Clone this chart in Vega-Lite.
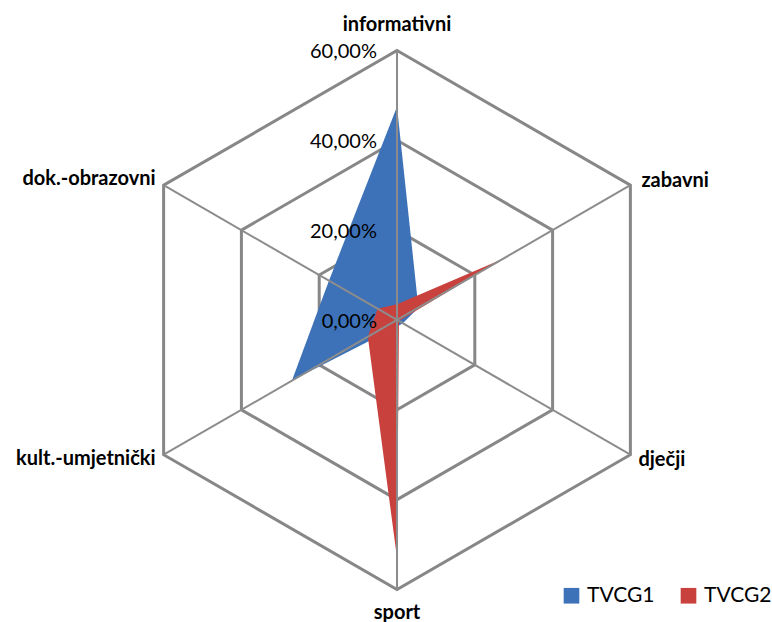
{
  "$schema": "https://vega.github.io/schema/vega-lite/v6.json",
  "width": 772,
  "height": 622,
  "padding": 0,
  "autosize": {"type": "none"},
  "background": "white",
  "config": {"view": {"stroke": null}, "font": "Lato"},
  "datasets": {
    "scores": [
      {"cat": "informativni", "series": "TVCG1", "value": 47.5},
      {"cat": "zabavni", "series": "TVCG1", "value": 5.5},
      {"cat": "dječji", "series": "TVCG1", "value": 1.5},
      {"cat": "sport", "series": "TVCG1", "value": 1.5},
      {"cat": "kult.-umjetnički", "series": "TVCG1", "value": 27},
      {"cat": "dok.-obrazovni", "series": "TVCG1", "value": 17.5},
      {"cat": "informativni", "series": "TVCG2", "value": 3.5},
      {"cat": "zabavni", "series": "TVCG2", "value": 27},
      {"cat": "dječji", "series": "TVCG2", "value": 0.5},
      {"cat": "sport", "series": "TVCG2", "value": 53},
      {"cat": "kult.-umjetnički", "series": "TVCG2", "value": 7.5},
      {"cat": "dok.-obrazovni", "series": "TVCG2", "value": 5}
    ],
    "rings": [
      {"level": 20, "cat": "informativni"}, {"level": 20, "cat": "zabavni"}, {"level": 20, "cat": "dječji"},
      {"level": 20, "cat": "sport"}, {"level": 20, "cat": "kult.-umjetnički"}, {"level": 20, "cat": "dok.-obrazovni"},
      {"level": 40, "cat": "informativni"}, {"level": 40, "cat": "zabavni"}, {"level": 40, "cat": "dječji"},
      {"level": 40, "cat": "sport"}, {"level": 40, "cat": "kult.-umjetnički"}, {"level": 40, "cat": "dok.-obrazovni"},
      {"level": 60, "cat": "informativni"}, {"level": 60, "cat": "zabavni"}, {"level": 60, "cat": "dječji"},
      {"level": 60, "cat": "sport"}, {"level": 60, "cat": "kult.-umjetnički"}, {"level": 60, "cat": "dok.-obrazovni"}
    ],
    "axes": [
      {"cat": "informativni", "max": 60}, {"cat": "zabavni", "max": 60}, {"cat": "dječji", "max": 60},
      {"cat": "sport", "max": 60}, {"cat": "kult.-umjetnički", "max": 60}, {"cat": "dok.-obrazovni", "max": 60}
    ],
    "ticks": [
      {"value": 0, "label": "0,00%"},
      {"value": 20, "label": "20,00%"},
      {"value": 40, "label": "40,00%"},
      {"value": 60, "label": "60,00%"}
    ]
  },
  "encoding": {
    "x": {"field": "x", "type": "quantitative", "scale": {"domain": [-88.39, 83.49], "nice": false, "zero": false}, "axis": null},
    "y": {"field": "y", "type": "quantitative", "scale": {"domain": [-67.24, 71.24], "nice": false, "zero": false}, "axis": null}
  },
  "layer": [
    {
      "data": {"name": "rings"},
      "transform": [
        {"calculate": "indexof(['informativni','zabavni','dječji','sport','kult.-umjetnički','dok.-obrazovni'], datum.cat)", "as": "idx"},
        {"calculate": "datum.level * sin(datum.idx * PI / 3)", "as": "x"},
        {"calculate": "datum.level * cos(datum.idx * PI / 3)", "as": "y"}
      ],
      "mark": {"type": "line", "interpolate": "linear-closed", "stroke": "#878787", "strokeWidth": 3},
      "encoding": {"detail": {"field": "level"}, "order": {"field": "idx", "type": "quantitative"}}
    },
    {
      "data": {"name": "scores"},
      "transform": [
        {"filter": "datum.series === 'TVCG1'"},
        {"calculate": "indexof(['informativni','zabavni','dječji','sport','kult.-umjetnički','dok.-obrazovni'], datum.cat)", "as": "idx"},
        {"calculate": "datum.value * sin(datum.idx * PI / 3)", "as": "x"},
        {"calculate": "datum.value * cos(datum.idx * PI / 3)", "as": "y"}
      ],
      "mark": {"type": "line", "interpolate": "linear-closed", "strokeWidth": 0},
      "encoding": {
        "fill": {"field": "series", "type": "nominal", "scale": {"domain": ["TVCG1", "TVCG2"], "range": ["#3d72b8", "#c8413d"]},
          "legend": {"orient": "none", "legendX": 561, "legendY": 585, "direction": "horizontal", "title": null, "symbolType": "square", "symbolSize": 245, "labelFontSize": 21, "labelFont": "Lato", "labelColor": "#000", "labelOffset": 5, "columnPadding": 23, "symbolStrokeWidth": 0}},
        "order": {"field": "idx", "type": "quantitative"}
      }
    },
    {
      "data": {"name": "scores"},
      "transform": [
        {"filter": "datum.series === 'TVCG2'"},
        {"calculate": "indexof(['informativni','zabavni','dječji','sport','kult.-umjetnički','dok.-obrazovni'], datum.cat)", "as": "idx"},
        {"calculate": "datum.value * sin(datum.idx * PI / 3)", "as": "x"},
        {"calculate": "datum.value * cos(datum.idx * PI / 3)", "as": "y"}
      ],
      "mark": {"type": "line", "interpolate": "linear-closed", "strokeWidth": 0},
      "encoding": {
        "fill": {"field": "series", "type": "nominal"},
        "order": {"field": "idx", "type": "quantitative"}
      }
    },
    {
      "data": {"name": "axes"},
      "transform": [
        {"calculate": "indexof(['informativni','zabavni','dječji','sport','kult.-umjetnički','dok.-obrazovni'], datum.cat)", "as": "idx"},
        {"calculate": "datum.max * sin(datum.idx * PI / 3)", "as": "x"},
        {"calculate": "datum.max * cos(datum.idx * PI / 3)", "as": "y"}
      ],
      "mark": {"type": "rule", "stroke": "#8c8c8c", "strokeWidth": 2},
      "encoding": {"x2": {"datum": 0}, "y2": {"datum": 0}}
    },
    {
      "data": {"name": "axes"},
      "transform": [
        {"calculate": "indexof(['informativni','zabavni','dječji','sport','kult.-umjetnički','dok.-obrazovni'], datum.cat)", "as": "idx"},
        {"calculate": "datum.max * sin(datum.idx * PI / 3)", "as": "x"},
        {"calculate": "datum.max * cos(datum.idx * PI / 3)", "as": "y"}
      ],
      "mark": {
        "type": "text",
        "font": "Lato",
        "fontSize": 20,
        "fontWeight": "bold",
        "color": "#000000",
        "baseline": "alphabetic",
        "align": {"expr": "(datum.idx == 0 || datum.idx == 3) ? 'center' : (datum.idx < 3 ? 'left' : 'right')"},
        "dx": {"expr": "[0, 11, 8, 0, -8, -8][datum.idx]"},
        "dy": {"expr": "[-19, 2, 11, 30, 10, 0][datum.idx]"}
      },
      "encoding": {"text": {"field": "cat"}}
    },
    {
      "data": {"name": "ticks"},
      "transform": [
        {"calculate": "0", "as": "x"},
        {"calculate": "datum.value", "as": "y"}
      ],
      "mark": {"type": "text", "font": "Lato", "fontSize": 20, "color": "#000000", "align": "right", "baseline": "middle", "dx": -20, "dy": 2},
      "encoding": {"text": {"field": "label"}}
    }
  ]
}
